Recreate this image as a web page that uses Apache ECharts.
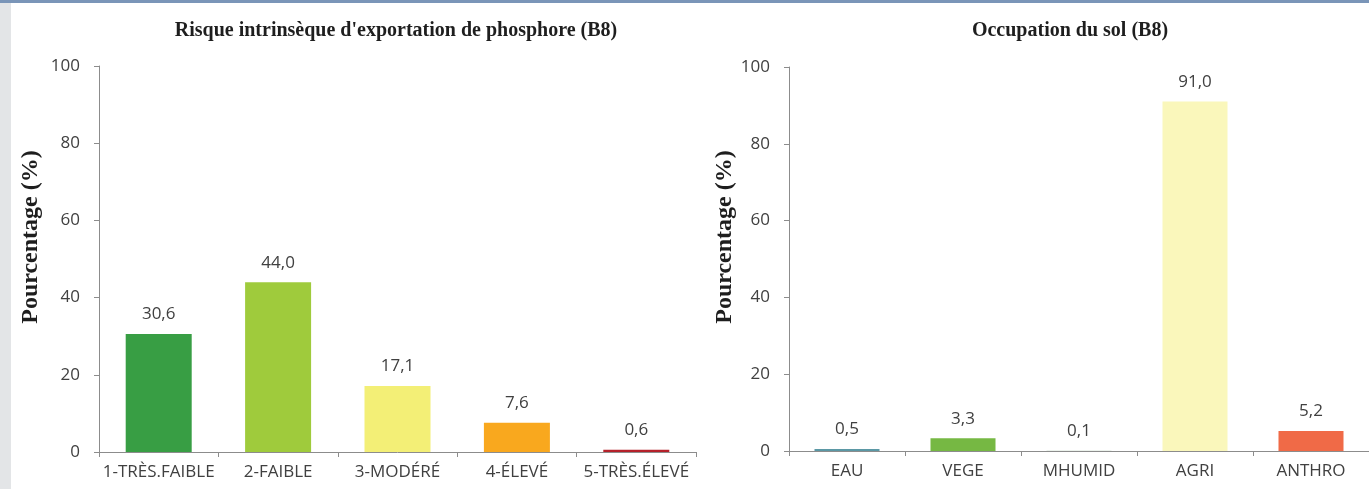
<!DOCTYPE html>
<html>
<head>
<meta charset="utf-8">
<script src="https://cdn.jsdelivr.net/npm/echarts@6/dist/echarts.min.js"></script>
<style>
html,body{margin:0;padding:0;background:#fff;}
#chart{width:1369px;height:489px;}
</style>
</head>
<body>
<div id="chart"></div>
<script>
// ---- Data ----
var riskTitle = "Risque intrinsèque d'exportation de phosphore (B8)";
var riskCategories = ['1-TRÈS.FAIBLE', '2-FAIBLE', '3-MODÉRÉ', '4-ÉLEVÉ', '5-TRÈS.ÉLEVÉ'];
var riskValues = [30.6, 44.0, 17.1, 7.6, 0.6];
var riskColors = ['#389e44', '#9fcb3c', '#f3ef76', '#f9a81e', '#b5212a'];

var landTitle = "Occupation du sol (B8)";
var landCategories = ['EAU', 'VEGE', 'MHUMID', 'AGRI', 'ANTHRO'];
var landValues = [0.5, 3.3, 0.1, 91.0, 5.2];
var landColors = ['#5b98a5', '#76b843', '#d9e6d9', '#faf7bb', '#f06a47'];

var yTicks = [0, 20, 40, 60, 80, 100];
var yAxisName = 'Pourcentage (%)';

// ---- Chart ----
var textColor = '#404040';
var axisColor = '#8c8c8c';
var sansFont = '"Open Sans", sans-serif';
var serifFont = '"Liberation Serif", serif';

function fmt(v) { return v.toFixed(1).replace('.', ','); }

function mkX(idx, cats) {
  return {
    type: 'category', gridIndex: idx, data: cats,
    axisLine: { lineStyle: { color: axisColor, width: 1 } },
    axisTick: { show: true, length: 5, lineStyle: { color: axisColor } },
    axisLabel: { color: textColor, fontFamily: sansFont, fontSize: 17, margin: 12, interval: 0 }
  };
}
function mkY(idx, gap) {
  return {
    type: 'value', gridIndex: idx, min: yTicks[0], max: yTicks[yTicks.length - 1], interval: 20,
    name: yAxisName, nameLocation: 'middle', nameRotate: 90, nameGap: gap,
    nameTextStyle: { fontFamily: serifFont, fontWeight: 'bold', fontSize: 24, color: '#1e1e1e', padding: [0, 0, 0, 44] },
    axisLine: { show: true, lineStyle: { color: axisColor, width: 1 } },
    axisTick: { show: true, length: 5, lineStyle: { color: axisColor } },
    splitLine: { show: false },
    axisLabel: { color: textColor, fontFamily: sansFont, fontSize: 17, margin: 19 }
  };
}
function mkSeries(idx, vals, colors, bw) {
  return {
    type: 'bar', xAxisIndex: idx, yAxisIndex: idx, barWidth: bw,
    data: vals.map(function (v, i) { return { value: v, itemStyle: { color: colors[i] } }; }),
    label: {
      show: true, position: 'top', distance: 11, color: textColor,
      fontFamily: sansFont, fontSize: 17,
      formatter: function (p) { return fmt(p.value); }
    },
    animation: false
  };
}

var chart = echarts.init(document.getElementById('chart'), null, { renderer: 'canvas' });
chart.setOption({
  backgroundColor: '#ffffff',
  animation: false,
  title: [
    { text: riskTitle, left: 391, top: 16, textAlign: 'center',
      textStyle: { fontFamily: serifFont, fontWeight: 'bold', fontSize: 20, color: '#1e1e1e' } },
    { text: landTitle, left: 1065, top: 16, textAlign: 'center',
      textStyle: { fontFamily: serifFont, fontWeight: 'bold', fontSize: 20, color: '#1e1e1e' } }
  ],
  grid: [
    { left: 99, top: 66, width: 597, height: 386 },
    { left: 789, top: 67, width: 588, height: 384 }
  ],
  xAxis: [mkX(0, riskCategories), mkX(1, landCategories)],
  yAxis: [mkY(0, 56), mkY(1, 52)],
  series: [mkSeries(0, riskValues, riskColors, 66), mkSeries(1, landValues, landColors, 65)],
  graphic: [
    { type: 'rect', left: 0, top: 0, shape: { width: 11, height: 489 }, style: { fill: '#e3e5e7' }, silent: true },
    { type: 'rect', left: 0, top: 0, shape: { width: 1369, height: 3 }, style: { fill: '#7a95b8' }, silent: true }
  ]
});
</script>
</body>
</html>
